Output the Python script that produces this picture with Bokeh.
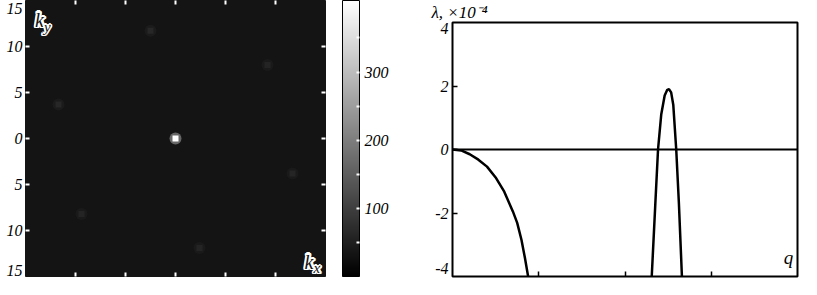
import numpy as np
from bokeh.plotting import figure
from bokeh.layouts import row, column
from bokeh.models import (LinearAxis, FixedTicker, ColorBar, LinearColorMapper,
                          Label, Range1d, Span, ColumnDataSource, Title)
from bokeh.palettes import Greys256
from bokeh.embed import file_html
from bokeh.resources import INLINE

# ---------------- data ----------------
# Fourier spectrum spots (k_x, k_y, intensity)
spot_kx = [0.0, -2.5, 9.2, -11.7, 11.7, -9.4, 2.4]
spot_ky = [0.0, 11.7, 8.0, 3.7, -3.8, -8.2, -11.9]
spot_intensity = [405, 62, 58, 62, 60, 58, 58]

k_tick_values = [-10, -5, 0, 5, 10]
k_label_pos = [-14.4, -10, -5, 0, 5, 10, 14.15]
k_label_text = ["15", "10", "5", "0", "5", "10", "15"]

cbar_ticks = [100, 200, 300]
cbar_minor_ticks = [50, 150, 250, 350]
cbar_low, cbar_high = 0, 405

# dispersion curves lambda(q), units of 1e-4
q1 = [0.0, 0.1, 0.2, 0.3, 0.4, 0.5, 0.6, 0.7, 0.75, 0.8, 0.84, 0.88, 0.92]
lam1 = [0.0, -0.03, -0.15, -0.32, -0.54, -0.88, -1.33, -1.95, -2.31, -2.85, -3.42, -4.05, -4.6]
q2 = [2.29, 2.31, 2.35, 2.383, 2.42, 2.46, 2.49, 2.51, 2.535, 2.56, 2.594, 2.625, 2.66, 2.675]
lam2 = [-4.6, -4.0, -1.8, 0.0, 1.1, 1.7, 1.88, 1.9, 1.8, 1.4, 0.0, -1.7, -4.0, -4.6]
lam_label_pos = [-3.75, -2, 0, 2, 3.82]
lam_label_text = ["-4", "-2", "0", "2", "4"]
lam_tick_values = [-2, 0, 2]
q_tick_values = [1, 2, 3]

SERIF = "'Liberation Serif', 'Times New Roman', serif"

# ---------------- left: spectrum ----------------
p1 = figure(width=420, height=279, x_range=Range1d(-15, 15), y_range=Range1d(-15, 15),
            output_backend="svg", toolbar_location=None,
            min_border_left=25, min_border_right=95, min_border_top=0, min_border_bottom=3,
            x_axis_location=None, y_axis_location=None,
            background_fill_color="#141414", border_fill_color="white",
            outline_line_color="#141414")
p1.title.visible = False
p1.grid.visible = False

left_ax = LinearAxis(ticker=FixedTicker(ticks=k_label_pos, minor_ticks=k_tick_values),
                     major_label_overrides={v: t for v, t in zip(k_label_pos, k_label_text)},
                     major_tick_in=0, major_tick_out=0, minor_tick_in=4, minor_tick_out=0,
                     minor_tick_line_color="white", minor_tick_line_width=2,
                     axis_line_color=None, major_label_standoff=3,
                     major_label_text_font=SERIF, major_label_text_font_style="italic",
                     major_label_text_font_size="16px", major_label_text_color="black")
p1.add_layout(left_ax, "left")
for side in ["right", "above", "below"]:
    ax = LinearAxis(ticker=FixedTicker(ticks=[], minor_ticks=k_tick_values),
                    major_tick_in=0, major_tick_out=0, major_tick_line_color=None,
                    minor_tick_in=4, minor_tick_out=0,
                    minor_tick_line_color="white", minor_tick_line_width=2,
                    axis_line_color=None, major_label_standoff=0,
                    major_label_text_font_size="0px")
    p1.add_layout(ax, side)

mapper = LinearColorMapper(palette=Greys256, low=cbar_low, high=cbar_high)
src = ColumnDataSource(dict(kx=spot_kx, ky=spot_ky, intensity=spot_intensity))
p1.scatter("kx", "ky", source=src, marker="circle", size=12,
           fill_color={"field": "intensity", "transform": mapper}, line_color=None, fill_alpha=0.35)
p1.scatter("kx", "ky", source=src, marker="square", size=6,
           fill_color={"field": "intensity", "transform": mapper}, line_color=None)

cb = ColorBar(color_mapper=mapper, ticker=FixedTicker(ticks=cbar_ticks, minor_ticks=cbar_minor_ticks),
              width=17, height="auto", padding=0, margin=0, location=(17, 0),
              major_tick_in=3, major_tick_out=0, major_tick_line_color="white", major_tick_line_width=2,
              minor_tick_in=3, minor_tick_out=0, minor_tick_line_color="white", minor_tick_line_width=2,
              label_standoff=5, major_label_text_font=SERIF, major_label_text_font_style="italic",
              major_label_text_font_size="16px", major_label_text_color="black",
              background_fill_alpha=0, border_line_color=None, bar_line_color="black")
p1.add_layout(cb, "right")


def halo_label(p, x, y, text, size, xo=0, yo=0):
    offs = [(-1.6, 0), (1.6, 0), (0, 1.6), (0, -1.6), (-1.2, -1.2), (1.2, 1.2), (-1.2, 1.2), (1.2, -1.2)]
    for dx, dy in offs:
        p.add_layout(Label(x=x, y=y, x_offset=xo + dx, y_offset=yo + dy, text=text,
                           text_color="white", text_font=SERIF, text_font_style="bold italic",
                           text_font_size=size))
    p.add_layout(Label(x=x, y=y, x_offset=xo, y_offset=yo, text=text, text_color="#141414",
                       text_font=SERIF, text_font_style="italic", text_font_size=size))


halo_label(p1, -14.05, 11.7, "k", "20px")
halo_label(p1, -14.05, 11.7, "y", "15px", xo=9, yo=-4)
halo_label(p1, 12.9, -14.6, "k", "20px")
halo_label(p1, 12.9, -14.6, "x", "15px", xo=9, yo=-3)

# ---------------- right: dispersion ----------------
p3 = figure(width=381, height=279, x_range=Range1d(0, 4), y_range=Range1d(-4, 4),
            output_backend="svg", toolbar_location=None,
            min_border_left=32, min_border_right=4, min_border_top=20, min_border_bottom=3,
            x_axis_location=None, y_axis_location=None,
            background_fill_color="white", border_fill_color="white",
            outline_line_color="black", outline_line_width=2)
p3.title.visible = False
p3.grid.visible = False

p3.add_layout(Title(text="λ, ×10⁻⁴", align="left", offset=-21, standoff=1,
                    text_font=SERIF, text_font_style="italic", text_font_size="17px",
                    text_color="black"), "above")

lax = LinearAxis(ticker=FixedTicker(ticks=lam_label_pos, minor_ticks=lam_tick_values),
                 major_label_overrides={v: t for v, t in zip(lam_label_pos, lam_label_text)},
                 major_tick_in=0, major_tick_out=0, minor_tick_in=5, minor_tick_out=0,
                 minor_tick_line_color="black", minor_tick_line_width=1.5,
                 axis_line_color=None, major_label_standoff=4,
                 major_label_text_font=SERIF, major_label_text_font_style="italic",
                 major_label_text_font_size="16px", major_label_text_color="black")
p3.add_layout(lax, "left")
bax = LinearAxis(ticker=FixedTicker(ticks=[], minor_ticks=q_tick_values),
                 major_tick_in=0, major_tick_out=0, minor_tick_in=5, minor_tick_out=0,
                 minor_tick_line_color="black", minor_tick_line_width=1.5,
                 axis_line_color=None, major_label_standoff=0, major_label_text_font_size="0px")
p3.add_layout(bax, "below")

p3.add_layout(Span(location=0, dimension="width", line_color="black", line_width=2))
p3.line(q1, lam1, line_color="black", line_width=2.5)
p3.line(q2, lam2, line_color="black", line_width=2.5)

p3.add_layout(Label(x=3.84, y=-3.72, text="q", text_font=SERIF, text_font_style="italic",
                    text_font_size="19px", text_color="black"))

layout = row(column(p1), column(p3), spacing=0)
open("out.html", "w").write(file_html(layout, INLINE))
